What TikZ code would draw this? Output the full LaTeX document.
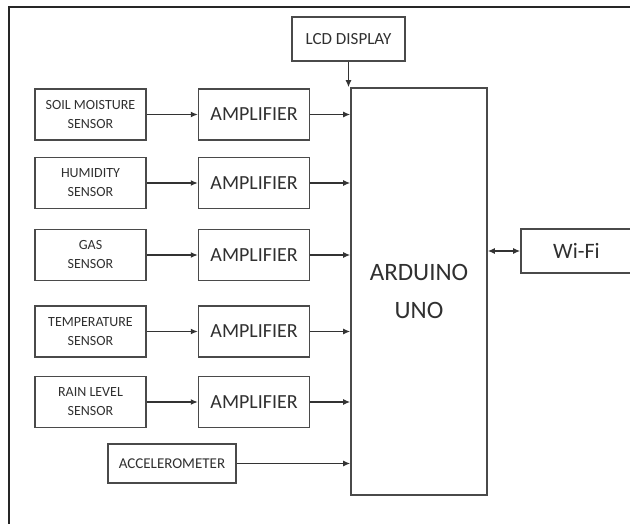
\documentclass[tikz,border=0pt]{standalone}
\usepackage{fontspec}
\setmainfont{Carlito}
\usepackage{xcolor}
\usepackage{tikz}
\usetikzlibrary{arrows.meta,positioning}
\definecolor{boxline}{HTML}{4A4A4A}
\definecolor{inktext}{HTML}{303030}
\tikzset{
    sensor/.style={rectangle, draw=boxline, line width=1.6pt, minimum width=111pt, minimum height=51pt, align=center, text=inktext, font=\fontsize{14}{19}\selectfont, inner sep=0pt},
    amp/.style={rectangle, draw=boxline, line width=1.6pt, minimum width=111pt, minimum height=51pt, align=center, text=inktext, font=\fontsize{20}{24}\selectfont, inner sep=0pt},
    mcu/.style={rectangle, draw=boxline, line width=1.6pt, minimum width=136pt, minimum height=407pt, align=center, text=inktext, font=\fontsize{25}{38}\selectfont, inner sep=0pt},
    periph/.style={rectangle, draw=boxline, line width=1.6pt, align=center, text=inktext, inner sep=0pt},
    flow/.style={-{Latex[length=7pt,width=6pt]}, line width=1.3pt, draw=black!80},
    frame/.style={line width=2.2pt, draw=black!85},
}

\begin{document}
\begin{tikzpicture}[x=1pt, y=1pt, node distance=51pt]
    \useasboundingbox (0,0) rectangle (630,-524);
    \draw[frame] (9,-524) -- (9,-7) -- (630,-7);

    % sensors
    \node[sensor] (soil) at (90.5,-114.5) {SOIL MOISTURE\\SENSOR};
    \node[sensor] (hum) at (90.5,-183) {HUMIDITY\\SENSOR};
    \node[sensor] (gas) at (90.5,-255) {GAS\\SENSOR};
    \node[sensor] (temp) at (90.5,-331.5) {TEMPERATURE\\SENSOR};
    \node[sensor] (rain) at (90.5,-402) {RAIN LEVEL\\SENSOR};
    \node[sensor, minimum width=128pt, minimum height=39pt, font=\fontsize{15}{17}\selectfont] (acc) at (172,-463.5) {ACCELEROMETER};

    % amplifiers
    \node[amp, right=of soil] (amp1) {AMPLIFIER};
    \node[amp, right=of hum] (amp2) {AMPLIFIER};
    \node[amp, right=of gas] (amp3) {AMPLIFIER};
    \node[amp, right=of temp] (amp4) {AMPLIFIER};
    \node[amp, right=of rain] (amp5) {AMPLIFIER};

    \node[mcu] (uno) at (419,-291.5) {ARDUINO\\UNO};
    \node[periph, minimum width=113pt, minimum height=44pt, font=\fontsize{17}{20}\selectfont] (lcd) at (348.5,-39) {LCD DISPLAY};
    \node[periph, minimum width=111pt, minimum height=44pt, font=\fontsize{22}{26}\selectfont] (wifi) at (576.5,-251) {Wi-Fi};

    \foreach \s/\a in {soil/amp1, hum/amp2, gas/amp3, temp/amp4, rain/amp5} {
        \draw[flow] (\s) -- (\a);
        \draw[flow] (\a.east) -- (\a.east -| uno.west);
    }
    \draw[flow] (acc.east) -- (acc.east -| uno.west);
    \draw[flow] (lcd.south) -- (lcd.south |- uno.north);
    \draw[flow, {Latex[length=7pt,width=6pt]}-{Latex[length=7pt,width=6pt]}] (wifi.west) -- (wifi.west -| uno.east);
\end{tikzpicture}
\end{document}
